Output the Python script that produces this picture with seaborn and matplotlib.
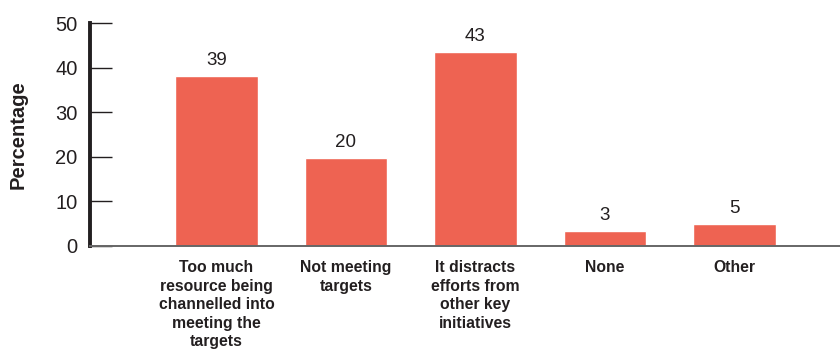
import matplotlib
matplotlib.use("Agg")
import matplotlib.pyplot as plt
import seaborn as sns
import pandas as pd

categories = [
    "Too much\nresource being\nchannelled into\nmeeting the\ntargets",
    "Not meeting\ntargets",
    "It distracts\nefforts from\nother key\ninitiatives",
    "None",
    "Other",
]
values = [38.1, 19.7, 43.5, 3.3, 4.9]
value_labels = ["39", "20", "43", "3", "5"]
y_ticks = [0, 10, 20, 30, 40, 50]

sns.set_style("white")
plt.rcParams["font.family"] = ["Liberation Sans", "DejaVu Sans"]
text_color = "#231F20"

df = pd.DataFrame({"category": categories, "value": values})

fig = plt.figure(figsize=(8.4, 3.52), dpi=100)
ax = fig.add_axes([90 / 840, 1 - 245.5 / 352, 750 / 840, 222.2 / 352])

sns.barplot(data=df, x="category", y="value", color="#EE6352", width=0.64,
            saturation=1, ax=ax, zorder=2)

ax.bar_label(ax.containers[0], labels=value_labels, padding=5,
             fontsize=13.5, color=text_color)

ax.set_ylim(0, 50)
ax.set_xlim(-0.977, 4.815)
ax.set_yticks(y_ticks)
ax.set_yticklabels([str(t) for t in y_ticks], fontsize=14.5, color=text_color)
ax.tick_params(axis="y", left=True, direction="in", length=16, width=1.0,
               color=text_color, pad=9)
ax.tick_params(axis="x", bottom=False, length=0, pad=10.5)
for lbl in ax.get_xticklabels():
    lbl.set_fontweight("bold")
    lbl.set_fontsize(11.3)
    lbl.set_color(text_color)
    lbl.set_linespacing(1.29)
    lbl.set_verticalalignment("top")

ax.set_xlabel("")
ax.set_ylabel("Percentage", fontsize=14.5, fontweight="bold", color=text_color, labelpad=20)

for s in ["top", "right"]:
    ax.spines[s].set_visible(False)
ax.spines["left"].set_linewidth(2.8)
ax.spines["left"].set_color("#231F20")
ax.spines["bottom"].set_linewidth(1.4)
ax.spines["bottom"].set_color("#666666")
ax.spines["bottom"].set_zorder(3)

fig.savefig("out.png", dpi=100)
